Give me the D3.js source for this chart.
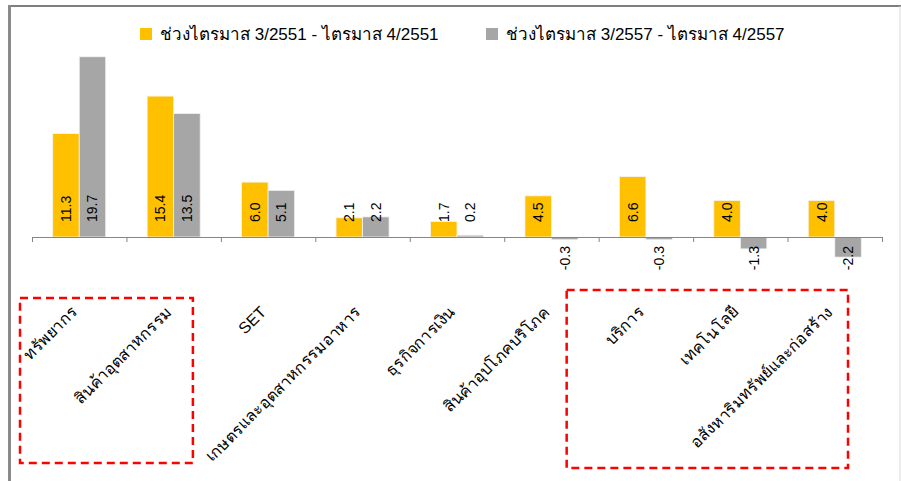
<!DOCTYPE html>
<html>
<head>
<meta charset="utf-8">
<script src="https://cdn.jsdelivr.net/npm/d3@7"></script>
<style>
  body { margin: 0; background: #fff; }
  text { font-family: "Liberation Sans", Arial, "Noto Sans", sans-serif; }
</style>
</head>
<body>
<div id="chart"></div>
<script>

var categories = ["ทรัพยากร", "สินค้าอุตสาหกรรม", "SET", "เกษตรและอุตสาหกรรมอาหาร",
  "ธุรกิจการเงิน", "สินค้าอุปโภคบริโภค", "บริการ", "เทคโนโลยี", "อสังหาริมทรัพย์และก่อสร้าง"];
var series = ["ช่วงไตรมาส 3/2551 - ไตรมาส 4/2551", "ช่วงไตรมาส 3/2557 - ไตรมาส 4/2557"];
var values2551 = [11.3, 15.4, 6.0, 2.1, 1.7, 4.5, 6.6, 4.0, 4.0];
var values2557 = [19.7, 13.5, 5.1, 2.2, 0.2, -0.3, -0.3, -1.3, -2.2];
var colors = ["#FFC000", "#A6A6A6"];

var width = 901, height = 481;

var svg = d3.select("#chart").append("svg")
  .attr("width", width)
  .attr("height", height);

// frame
svg.append("line").attr("x1", 9).attr("x2", width).attr("y1", 6).attr("y2", 6)
  .attr("stroke", "#7f7f7f").attr("stroke-width", 2);
svg.append("line").attr("x1", 9.5).attr("x2", 9.5).attr("y1", 5).attr("y2", height)
  .attr("stroke", "#8a8a8a").attr("stroke-width", 3);
svg.append("line").attr("x1", 900).attr("x2", 900).attr("y1", 6).attr("y2", height)
  .attr("stroke", "#d9d9d9").attr("stroke-width", 1);

var x = d3.scaleBand().domain(categories).range([32, 882]).padding(0);
var xSub = d3.scaleBand().domain(series).range([0, x.bandwidth()]).paddingInner(0).paddingOuter(0.78);
var y = d3.scaleLinear().domain([-4, 20]).range([273.6, 54]);

var data = categories.map(function (c, i) {
  return { cat: c, vals: [values2551[i], values2557[i]] };
});

var groups = svg.selectAll("g.grp")
  .data(data)
  .enter()
  .append("g")
  .attr("class", "grp")
  .attr("transform", function (d) { return "translate(" + x(d.cat) + ",0)"; });

groups.selectAll("rect")
  .data(function (d) { return d.vals.map(function (v, j) { return { s: series[j], v: v, j: j }; }); })
  .enter()
  .append("rect")
  .attr("x", function (d) { return xSub(d.s); })
  .attr("width", xSub.bandwidth())
  .attr("y", function (d) { return y(Math.max(0, d.v)); })
  .attr("height", function (d) { return Math.abs(y(d.v) - y(0)); })
  .attr("fill", function (d) { return colors[d.j]; })
  .attr("stroke", "#f4f4f4")
  .attr("stroke-width", 0.8);

// value labels
groups.selectAll("text.val")
  .data(function (d) { return d.vals.map(function (v, j) { return { s: series[j], v: v }; }); })
  .enter()
  .append("text")
  .attr("class", "val")
  .attr("transform", function (d) {
    var cx = xSub(d.s) + xSub.bandwidth() / 2 + 5;
    var cy = d.v >= 0 ? y(0) - 15 : y(0) + 9;
    return "translate(" + cx + "," + cy + ") rotate(-90)";
  })
  .attr("text-anchor", function (d) { return d.v >= 0 ? "start" : "end"; })
  .attr("font-size", 14)
  .attr("fill", "#000")
  .text(function (d) { return d.v.toFixed(1); });

// axis line with ticks at category boundaries
var tickScale = d3.scaleLinear().domain([0, categories.length]).range([32, 882]);
var axis = svg.append("g")
  .attr("transform", "translate(0," + y(0) + ")")
  .call(d3.axisBottom(tickScale).ticks(categories.length).tickSize(5).tickSizeOuter(0).tickFormat(""));
axis.select(".domain").attr("stroke", "#868686");
axis.selectAll(".tick line").attr("stroke", "#868686");

// category labels, rotated
svg.selectAll("text.cat")
  .data(categories)
  .enter()
  .append("text")
  .attr("class", "cat")
  .attr("transform", function (d) {
    return "translate(" + (x(d) + x.bandwidth() / 2 - 1) + ",313) rotate(-45)";
  })
  .attr("text-anchor", "end")
  .attr("font-size", 16)
  .attr("fill", "#000")
  .text(function (d) { return d; });

// dashed highlight boxes
var boxes = [[0, 1], [6, 8]];
svg.selectAll("rect.box")
  .data(boxes)
  .enter()
  .append("rect")
  .attr("class", "box")
  .attr("x", function (d) { return x(categories[d[0]]) + (d[0] === 0 ? -12 : -32); })
  .attr("y", function (d) { return d[0] === 0 ? 298 : 290; })
  .attr("width", function (d) {
    var a = x(categories[d[0]]) + (d[0] === 0 ? -12 : -32);
    var b = x(categories[d[1]]) + x.bandwidth() - (d[0] === 0 ? 28 : 34);
    return b - a;
  })
  .attr("height", function (d) { return d[0] === 0 ? 165 : 178; })
  .attr("fill", "none")
  .attr("stroke", "#FF0000")
  .attr("stroke-width", 2.5)
  .attr("stroke-dasharray", "8,5");

// legend
var legendX = [140, 486];
var legend = svg.selectAll("g.leg")
  .data(series)
  .enter()
  .append("g")
  .attr("class", "leg")
  .attr("transform", function (d, i) { return "translate(" + legendX[i] + ",28)"; });
legend.append("rect").attr("width", 12).attr("height", 12)
  .attr("fill", function (d, i) { return colors[i]; });
legend.append("text").attr("x", 20).attr("y", 12)
  .attr("font-size", 17)
  .text(function (d) { return d; });

</script>
</body>
</html>
